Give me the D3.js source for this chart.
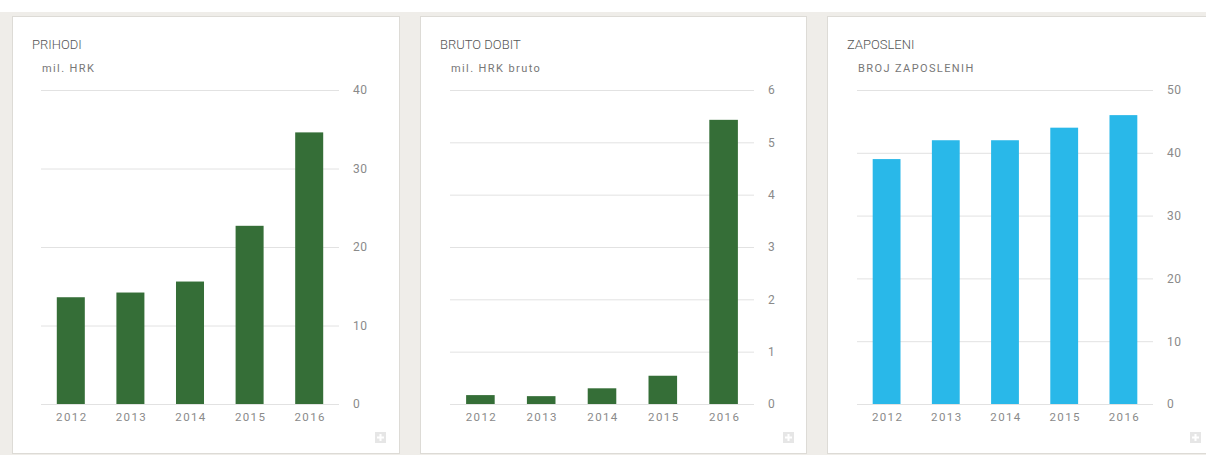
<!DOCTYPE html>
<html>
<head>
<meta charset="utf-8">
<script src="https://cdn.jsdelivr.net/npm/d3@7"></script>
<style>
html,body{margin:0;padding:0;background:#fff;}
svg{display:block;font-family:Roboto,"Noto Sans",sans-serif;}
</style>
</head>
<body>
<svg id="c" width="1206" height="455"></svg>
<script>
const years = ["2012","2013","2014","2015","2016"];
const prihodi = [13.6, 14.2, 15.6, 22.7, 34.6];
const brutoDobit = [0.17, 0.15, 0.30, 0.54, 5.43];
const zaposleni = [39, 42, 42, 44, 46];
const titles = ["PRIHODI","BRUTO DOBIT","ZAPOSLENI"];
const subtitles = ["mil. HRK","mil. HRK bruto","BROJ ZAPOSLENIH"];
const yMax = [40, 6, 50];
const yTicks = [[0,10,20,30,40],[0,1,2,3,4,5,6],[0,10,20,30,40,50]];
const colors = ["#356e37","#356e37","#29b8e9"];
const seriesList = [prihodi, brutoDobit, zaposleni];

const svg = d3.select("#c");
svg.append("rect").attr("x",0).attr("y",12).attr("width",1206).attr("height",443).attr("fill","#efede9");

const panels = [
  {x:12, w:387, gx0:41, gx1:339},
  {x:420, w:386, gx0:450, gx1:754},
  {x:827, w:400, gx0:857, gx1:1153}
];
const panelTop = 16, panelBottom = 453;
const plotTop = 90, plotBottom = 404;

panels.forEach((p,i)=>{
  const g = svg.append("g");
  g.append("rect").attr("x",p.x+0.5).attr("y",panelTop+0.5).attr("width",p.w).attr("height",panelBottom-panelTop)
    .attr("fill","#fff").attr("stroke","#dddbd6").attr("stroke-width",1);
  g.append("text").attr("x",p.x+20).attr("y",49).text(titles[i])
    .attr("font-size",13).attr("font-weight",300).attr("fill","#555");
  g.append("text").attr("x",p.gx0+1).attr("y",72).text(subtitles[i])
    .attr("font-size",11).attr("letter-spacing",1.4).attr("fill","#777");

  const x = d3.scaleBand().domain(years).range([p.gx0,p.gx1]).paddingInner(0.53).paddingOuter(0.265);
  const y = d3.scaleLinear().domain([0,yMax[i]]).range([plotBottom,plotTop]);

  const ya = d3.axisRight(y).tickValues(yTicks[i]).tickSize(p.gx1-p.gx0).tickPadding(14).tickFormat(d3.format("d"));
  const yg = g.append("g").attr("transform",`translate(${p.gx0},0)`).call(ya);
  yg.select(".domain").remove();
  yg.selectAll(".tick line").attr("stroke","#e2e2e2");
  yg.selectAll(".tick text").attr("fill","#8a8a8a").attr("font-size",12).attr("letter-spacing",0.6).attr("font-family","Roboto,sans-serif");

  g.selectAll(".bar").data(seriesList[i]).enter().append("rect")
    .attr("x",(d,j)=>x(years[j])).attr("width",x.bandwidth())
    .attr("y",d=>y(d)).attr("height",d=>plotBottom-y(d)).attr("fill",colors[i]);

  const xa = d3.axisBottom(x).tickSize(0).tickPadding(9);
  const xg = g.append("g").attr("transform",`translate(1,${plotBottom})`).call(xa);
  xg.select(".domain").remove();
  xg.selectAll(".tick text").attr("fill","#8a8a8a").attr("font-size",11.5).attr("letter-spacing",1.4).attr("font-family","Roboto,sans-serif");

  // small plus icon
  const ix = p.x + 363, iy = 432;
  g.append("rect").attr("x",ix).attr("y",iy).attr("width",11).attr("height",11).attr("fill","#e6e6e6");
  g.append("rect").attr("x",ix+4.5).attr("y",iy+2).attr("width",2).attr("height",7).attr("fill","#fff");
  g.append("rect").attr("x",ix+2).attr("y",iy+4.5).attr("width",7).attr("height",2).attr("fill","#fff");
});
</script>
</body>
</html>
